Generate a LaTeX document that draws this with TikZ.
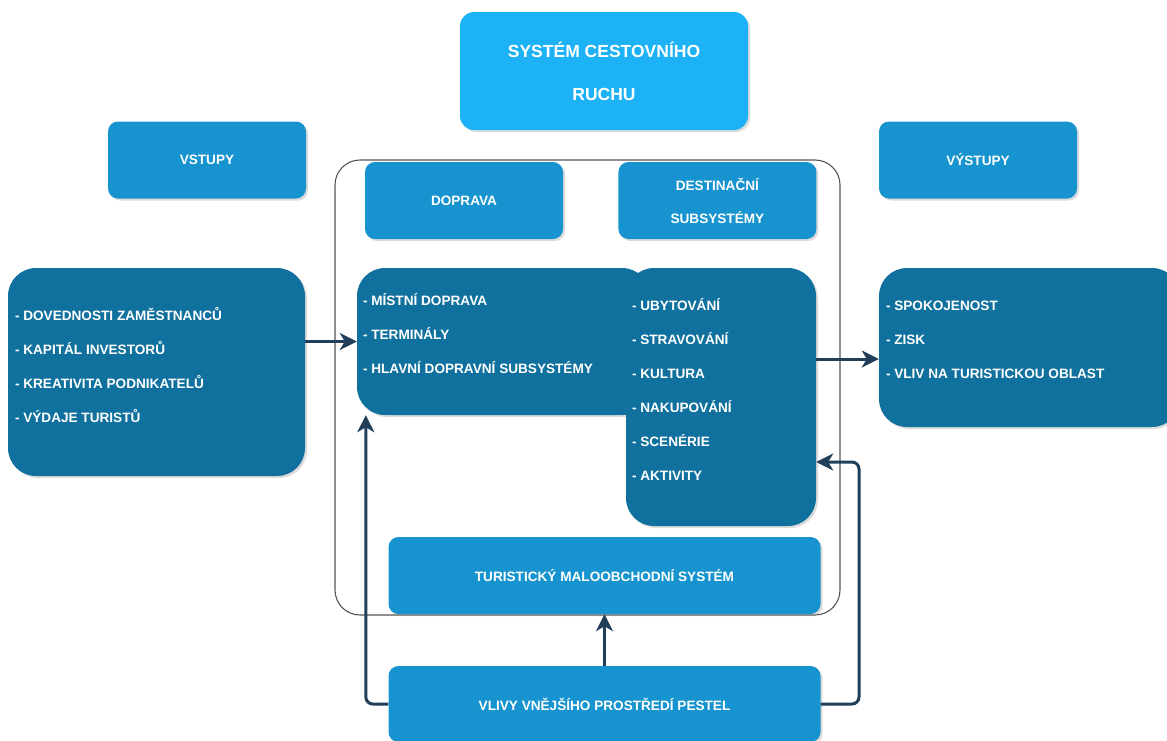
\documentclass[tikz,border=0pt]{standalone}
\usepackage{fontspec}
\setmainfont{Liberation Sans}
\usetikzlibrary{positioning,arrows.meta,shadows}
\definecolor{titlefill}{HTML}{1CB2F5}
\definecolor{midfill}{HTML}{1794CF}
\definecolor{darkfill}{HTML}{11719E}
\definecolor{arrowc}{HTML}{223F5A}
\definecolor{framec}{HTML}{555555}

\begin{document}
\begin{tikzpicture}[x=1pt,y=-1pt,
  shadowed/.style={drop shadow={shadow xshift=2pt,shadow yshift=-2pt,opacity=0.3,fill=black!45}},
  head/.style={fill=titlefill,rounded corners=14pt,minimum width=288pt,minimum height=118pt,
    align=center,text=white,font=\bfseries\fontsize{17.5}{43}\selectfont,shadowed},
  box/.style={fill=midfill,rounded corners=10pt,minimum width=198pt,minimum height=77pt,
    align=center,text=white,font=\bfseries\fontsize{13.6}{33}\selectfont,shadowed},
  wide/.style={box,minimum width=432pt},
  dark/.style={fill=darkfill,rounded corners=28pt,shadowed},
  items/.style={anchor=west,inner sep=0pt,align=left,text=white,
    font=\bfseries\fontsize{13.6}{34}\selectfont},
  arr/.style={-{Stealth[length=17pt,width=17pt,inset=5pt]},line width=3pt,color=arrowc,
    rounded corners=7pt}]
\clip (0,0) rectangle (1167,740);
\node[draw=framec,line width=1.1pt,rounded corners=25pt,minimum width=505pt,minimum height=455pt] (sys) at (587.5,387.5) {};
\node[head] (top) at (604,71) {SYSTÉM CESTOVNÍHO\\RUCHU};
\node[box] (vin) at (207,160) {VSTUPY};
\node[box] (vout) at (978,160) {VÝSTUPY};
\node[box] (dop) at (464,200.5) {DOPRAVA};
\node[box,right=55pt of dop] (dest) {DESTINAČNÍ\\SUBSYSTÉMY};
\node[dark,minimum width=297pt,minimum height=208pt] (inp) at (156.5,372) {};
\node[dark,minimum width=293pt,minimum height=147pt] (tr) at (503.5,341.5) {};
\node[dark,minimum width=190pt,minimum height=258pt] (dst) at (721,397) {};
\node[dark,minimum width=301pt,minimum height=159pt] (out) at (1029.5,347.5) {};
\node[items] (inpl) at ([xshift=7pt,yshift=7.5pt]inp.west) {- DOVEDNOSTI ZAMĚSTNANCŮ\\- KAPITÁL INVESTORŮ\\- KREATIVITA PODNIKATELŮ\\- VÝDAJE TURISTŮ};
\node[items] (trl) at ([xshift=6pt,yshift=7.5pt]tr.west) {- MÍSTNÍ DOPRAVA\\- TERMINÁLY\\- HLAVNÍ DOPRAVNÍ SUBSYSTÉMY};
\node[items] (dstl) at ([xshift=6pt,yshift=8pt]dst.west) {- UBYTOVÁNÍ\\- STRAVOVÁNÍ\\- KULTURA\\- NAKUPOVÁNÍ\\- SCENÉRIE\\- AKTIVITY};
\node[items] (outl) at ([xshift=7pt,yshift=7.5pt]out.west) {- SPOKOJENOST\\- ZISK\\- VLIV NA TURISTICKOU OBLAST};
\node[wide] (tms) at (604.5,575.5) {TURISTICKÝ MALOOBCHODNÍ SYSTÉM};
\node[wide,minimum height=76pt] (env) at (604.5,704) {VLIVY VNĚJŠÍHO PROSTŘEDÍ PESTEL};
\coordinate (fb) at (859,462);
\draw[arr] (inp.east |- tr.west) -- (tr.west);
\draw[arr] (dst.east |- 0,359) -- (out.west |- 0,359);
\draw[arr] (env.north) -- (tms.south);
\draw[arr] (env.west) -| ([xshift=9pt]tr.south west);
\draw[arr] (env.east) -| (fb) -- (dst.east |- fb);
\end{tikzpicture}
\end{document}
